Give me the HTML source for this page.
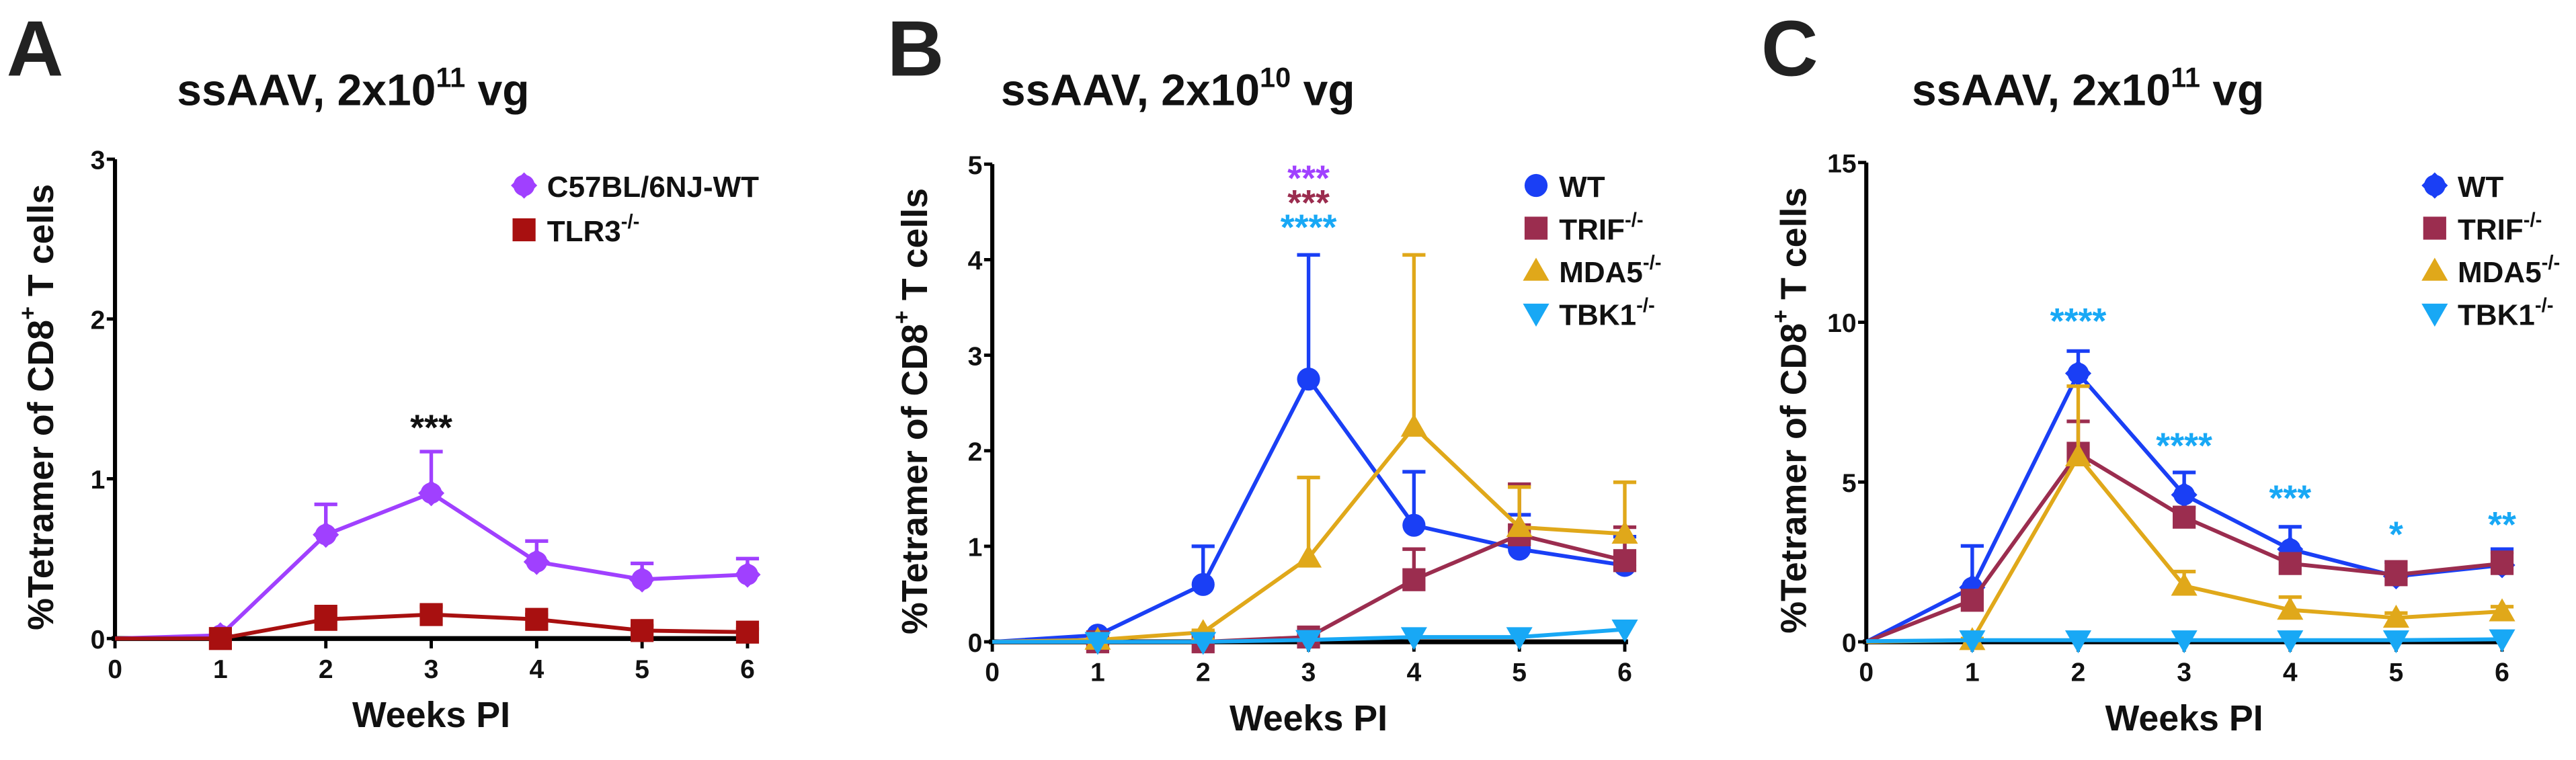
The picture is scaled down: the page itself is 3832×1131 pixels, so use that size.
<!DOCTYPE html>
<html><head><meta charset="utf-8"><style>
html,body{margin:0;padding:0;background:#fff;}
svg{display:block;font-family:"Liberation Sans",Arial,sans-serif;font-weight:bold;}
</style></head><body>
<svg id="fig" width="3832" height="1131" viewBox="0 0 1568 463" preserveAspectRatio="none" xmlns="http://www.w3.org/2000/svg"></svg>
<script>
const weeks = [0,1,2,3,4,5,6];
const xTicks = ["0","1","2","3","4","5","6"];
// Panel A
const aWT = [0,0.02,0.65,0.91,0.48,0.37,0.40];
const aWTerr = [0,0,0.84,1.17,0.61,0.47,0.50];
const aTLR3 = [0,0,0.12,0.15,0.12,0.05,0.04];
const aTLR3err = [0,0,0.20,0.20,0.15,0.08,0.06];
const aYTicks = [0,1,2,3];
// Panel B
const bWT = [0,0.07,0.60,2.75,1.22,0.97,0.80];
const bWTerr = [0,0.09,1.00,4.05,1.78,1.33,1.10];
const bTRIF = [0,0,0,0.05,0.65,1.12,0.85];
const bTRIFerr = [0,0,0,0.08,0.97,1.65,1.20];
const bMDA5 = [0,0.02,0.10,0.88,2.25,1.20,1.13];
const bMDA5err = [0,0.03,0.12,1.72,4.05,1.62,1.67];
const bTBK1 = [0,0,0,0.02,0.05,0.05,0.13];
const bYTicks = [0,1,2,3,4,5];
// Panel C
const cWT = [0,1.7,8.4,4.6,2.9,2.05,2.4];
const cWTerr = [0,3.0,9.1,5.3,3.6,2.5,2.9];
const cTRIF = [0,1.3,5.9,3.9,2.45,2.1,2.45];
const cTRIFerr = [0,1.5,6.9,4.2,2.7,2.5,2.8];
const cMDA5 = [0,0.05,5.8,1.75,1.0,0.75,0.95];
const cMDA5err = [0,0.1,8.0,2.2,1.4,0.9,1.1];
const cTBK1 = [0.02,0.05,0.05,0.05,0.05,0.05,0.08];
const cYTicks = [0,5,10,15];

const NS="http://www.w3.org/2000/svg";
const svg=document.getElementById('fig');
function mk(tag,attrs,parent){const e=document.createElementNS(NS,tag);for(const k in attrs)e.setAttribute(k,attrs[k]);(parent||svg).appendChild(e);return e;}

function marker(g,shape,x,y,color){
  let e;
  if(shape==='diamond'){e=mk('path',{d:`M${x-8},${y} L${x},${y-8} L${x+8},${y} L${x},${y+8}Z`,fill:color},g);
    mk('circle',{cx:x,cy:y,r:6.5,fill:color},g);}
  else if(shape==='circle'){e=mk('circle',{cx:x,cy:y,r:7,fill:color},g);}
  else if(shape==='square'){e=mk('rect',{x:x-7,y:y-7,width:14,height:14,fill:color},g);}
  else if(shape==='tri'){e=mk('path',{d:`M${x-8},${y+6} L${x},${y-8} L${x+8},${y+6}Z`,fill:color},g);}
  else {e=mk('path',{d:`M${x-8},${y-6} L${x},${y+8} L${x+8},${y-6}Z`,fill:color},g);}
  return e;
}

function panel(cfg){
  const g=mk('g',{});
  
  
  const xs=v=>cfg.x0+(v/6)*(cfg.x1-cfg.x0);
  const ys=v=>cfg.y0-(v/cfg.ymax)*(cfg.y0-cfg.y1);
  const L=mk('text',{x:cfg.letterX,y:46,'font-size':48,fill:'#222'},g);L.textContent=cfg.letter;
  
  const t=mk('text',{x:cfg.titleX,y:64,'font-size':27,'text-anchor':'middle',fill:'#111'},g);
  
  t.innerHTML=`ssAAV, 2x10<tspan font-size="17" dy="-11">${cfg.exp}</tspan><tspan dy="11"> vg</tspan>`;
  const ya=mk('line',{x1:cfg.x0,y1:cfg.y0+1,x2:cfg.x0,y2:cfg.y1,stroke:'#000','stroke-width':2.5},g);
  
  const xa=mk('line',{x1:cfg.x0-2,y1:cfg.y0,x2:cfg.x1+2,y2:cfg.y0,stroke:'#000','stroke-width':3},g);
  
  cfg.yticks.forEach(v=>{
    mk('line',{x1:cfg.x0-5,y1:ys(v),x2:cfg.x0,y2:ys(v),stroke:'#000','stroke-width':2},g);
    const tl=mk('text',{x:cfg.x0-6,y:ys(v)+6,'font-size':16,'text-anchor':'end',fill:'#111'},g);tl.textContent=v;
    
  });
  weeks.forEach((w,i)=>{
    mk('line',{x1:xs(w),y1:cfg.y0,x2:xs(w),y2:cfg.y0+6,stroke:'#000','stroke-width':2},g);
    const tl=mk('text',{x:xs(w),y:cfg.y0+24,'font-size':16,'text-anchor':'middle',fill:'#111'},g);tl.textContent=xTicks[i];
    
  });
  const xt=mk('text',{x:(cfg.x0+cfg.x1)/2,y:cfg.y0+54,'font-size':22,'text-anchor':'middle',fill:'#111'},g);
  xt.textContent='Weeks PI';
  const cy=(cfg.y0+cfg.y1)/2+5, lx=cfg.x0-cfg.labOff;
  const yt=mk('text',{x:lx,y:cy,'font-size':22,'text-anchor':'middle',fill:'#111',transform:`rotate(-90 ${lx} ${cy})`,'dominant-baseline':'central'},g);
  yt.innerHTML='%Tetramer of CD8<tspan font-size="14" dy="-8">+</tspan><tspan dy="8"> T cells</tspan>';
  
  cfg.series.forEach((s,si)=>{
    const sg=mk('g',{},g);
    
    
    if(s.err) s.vals.forEach((v,i)=>{ if(s.err[i]>v+0.001){
      mk('line',{x1:xs(weeks[i]),y1:ys(v),x2:xs(weeks[i]),y2:ys(s.err[i]),stroke:s.color,'stroke-width':2.2},sg);
      mk('line',{x1:xs(weeks[i])-7,y1:ys(s.err[i]),x2:xs(weeks[i])+7,y2:ys(s.err[i]),stroke:s.color,'stroke-width':2.2},sg);}});
    const pts=s.vals.map((v,i)=>xs(weeks[i])+','+ys(v)).join(' ');
    const pl=mk('polyline',{points:pts,fill:'none',stroke:s.color,'stroke-width':2.4},sg);
    
    s.vals.forEach((v,i)=>{ if(i>0){const m=marker(sg,s.shape,xs(weeks[i]),ys(v),s.color);
      }});
    const ly=cfg.legY+si*cfg.legStep;
    const lg=mk('g',{},g);
    marker(lg,s.shape,cfg.legX,ly,s.color);
    const lt=mk('text',{x:cfg.legX+14,y:ly+7,'font-size':18,fill:'#111'},lg);
    lt.innerHTML=s.sup?`${s.label}<tspan font-size="12" dy="-8">-/-</tspan>`:s.label;
  });
  cfg.stars.forEach(st=>{
    const e=mk('text',{x:xs(st.w),y:st.y+9,'font-size':22,'text-anchor':'middle',fill:st.c},g);
    e.textContent=st.t;
  });
}
const PURPLE='#a040ff', MAROON='#9b2d4f', RED='#a81010', BLUE='#1a3ff5', GOLD='#e0a81a', CYAN='#18a8f5';
panel({name:'panel-a',letter:'A',letterX:4,titleX:215,exp:'11',x0:70,x1:455,y0:389,y1:97,ymax:3,yticks:aYTicks,labOff:45,
  legX:319,legY:113,legStep:27,
  series:[{label:'C57BL/6NJ-WT',vals:aWT,err:aWTerr,color:PURPLE,shape:'diamond'},
          {label:'TLR3',sup:1,vals:aTLR3,err:aTLR3err,color:RED,shape:'square'}],
  stars:[{w:3,y:259,t:'***',c:'#111'}]});
panel({name:'panel-b',letter:'B',letterX:540,titleX:717,exp:'10',x0:604,x1:989,y0:391,y1:100,ymax:5,yticks:bYTicks,labOff:47,
  legX:935,legY:113,legStep:26,
  series:[{label:'WT',vals:bWT,err:bWTerr,color:BLUE,shape:'circle'},
          {label:'TRIF',sup:1,vals:bTRIF,err:bTRIFerr,color:MAROON,shape:'square'},
          {label:'MDA5',sup:1,vals:bMDA5,err:bMDA5err,color:GOLD,shape:'tri'},
          {label:'TBK1',sup:1,vals:bTBK1,color:CYAN,shape:'dtri'}],
  stars:[{w:3,y:107,t:'***',c:PURPLE},{w:3,y:122,t:'***',c:MAROON},{w:3,y:137,t:'****',c:CYAN}]});
panel({name:'panel-c',letter:'C',letterX:1072,titleX:1271,exp:'11',x0:1136,x1:1523,y0:391,y1:99,ymax:15,yticks:cYTicks,labOff:44,
  legX:1482,legY:113,legStep:26,
  series:[{label:'WT',vals:cWT,err:cWTerr,color:BLUE,shape:'diamond'},
          {label:'TRIF',sup:1,vals:cTRIF,err:cTRIFerr,color:MAROON,shape:'square'},
          {label:'MDA5',sup:1,vals:cMDA5,err:cMDA5err,color:GOLD,shape:'tri'},
          {label:'TBK1',sup:1,vals:cTBK1,color:CYAN,shape:'dtri'}],
  stars:[{w:2,y:194,t:'****',c:CYAN},{w:3,y:270,t:'****',c:CYAN},{w:4,y:302,t:'***',c:CYAN},{w:5,y:324,t:'*',c:CYAN},{w:6,y:318,t:'**',c:CYAN}]});
</script>
</body></html>
